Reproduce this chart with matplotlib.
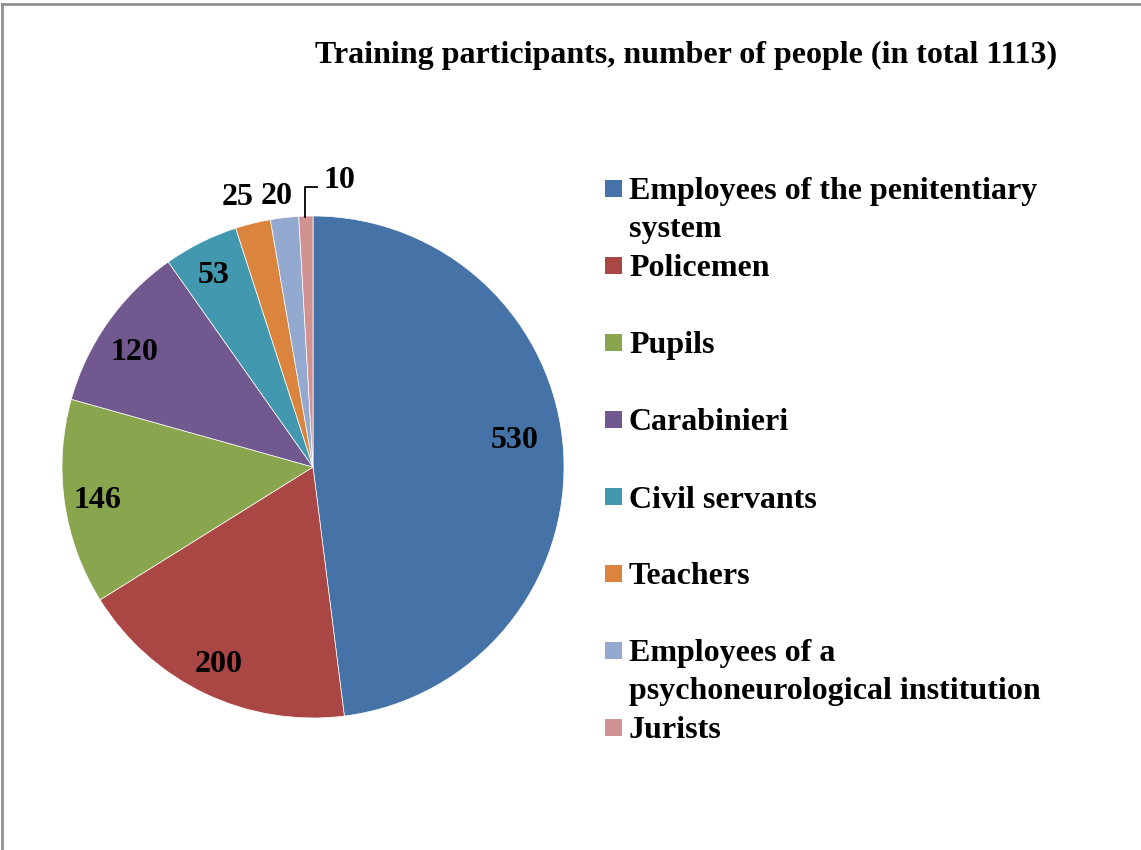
import numpy as np
import matplotlib.pyplot as plt
from matplotlib.patches import Rectangle
from matplotlib.lines import Line2D
from matplotlib.transforms import offset_copy

plt.rcParams['font.family'] = ['Liberation Serif', 'DejaVu Serif']
plt.rcParams['font.weight'] = 'bold'

# data
groups = ["Employees of the penitentiary\nsystem", "Policemen", "Pupils", "Carabinieri",
          "Civil servants", "Teachers", "Employees of a\npsychoneurological institution", "Jurists"]
people = [530, 200, 146, 120, 53, 25, 20, 10]
colors = ["#4572A7", "#AA4643", "#89A54E", "#71588F", "#4198AF", "#DB843D", "#93A9CF", "#D19392"]

# label placement (radius in pie radii, angle nudge in degrees)
label_r = [0.811, 0.861, 0.869, 0.851, 0.871, 1.128, 1.099, None]
label_da = [4.7, -0.4, -0.2, 1.7, 0.6, 1.6, 1.0, 0]

W, H = 1141, 850
fig = plt.figure(figsize=(W / 100, H / 100), dpi=100)

# pie axes, centre (313, 467) px, radius 251 px
cx, cy, r = 313, 467, 251
ax = fig.add_axes([(cx - r) / W, (H - cy - r) / H, 2 * r / W, 2 * r / H])
wedges, _ = ax.pie(people, colors=colors, startangle=90, counterclock=False,
                   radius=1, wedgeprops=dict(linewidth=0.5, edgecolor="white"))
ax.set_xlim(-1, 1)
ax.set_ylim(-1, 1)
ax.set_aspect("equal")
ax.axis("off")

fs = 23
half_cap = 10.8  # px, to centre digits vertically with baseline alignment
tr = offset_copy(ax.transData, fig=fig, x=0, y=-half_cap, units="dots")

for w, v, d, da in zip(wedges, people, label_r, label_da):
    a = np.deg2rad((w.theta1 + w.theta2) / 2 + da)
    x, y = np.cos(a), np.sin(a)
    if d is None:
        # tiny slice: label above with an elbow leader line
        ax.add_line(Line2D([x * 0.995 - 0.005, x * 0.995 - 0.005, 0.016], [y * 0.995, 1.116, 1.116],
                           color="black", lw=1.3, clip_on=False))
        ax.text(0.04, 1.155, str(v), ha="left", va="baseline", fontsize=fs,
                fontweight="bold", transform=tr)
        continue
    ax.text(x * d, y * d, str(v), ha="center", va="baseline", fontsize=fs,
            fontweight="bold", transform=tr)

# title
fig.text(686 / W, 1 - 63 / H, "Training participants, number of people (in total 1113)",
         ha="center", va="baseline", fontsize=fs, fontweight="bold")

# legend, evenly spaced entries
y0, step = 188.5, 77
for i, (g, c) in enumerate(zip(groups, colors)):
    yy = y0 + i * step
    fig.patches.append(Rectangle((605 / W, 1 - (yy + 8.5) / H), 17 / W, 17 / H,
                                 transform=fig.transFigure, facecolor=c, edgecolor="none"))
    for k, ln in enumerate(g.split("\n")):
        fig.text(629 / W, 1 - (yy + 11 + k * 37) / H, ln, ha="left", va="baseline",
                 fontsize=fs, fontweight="bold")

# frame lines on top and left
fig.add_artist(Line2D([2 / W, 2 / W], [0, 1 - 4 / H], color="#909090", lw=2,
                      transform=fig.transFigure))
fig.add_artist(Line2D([2 / W, 1], [1 - 4 / H, 1 - 4 / H], color="#909090", lw=2,
                      transform=fig.transFigure))

fig.savefig("out.png", dpi=100)
